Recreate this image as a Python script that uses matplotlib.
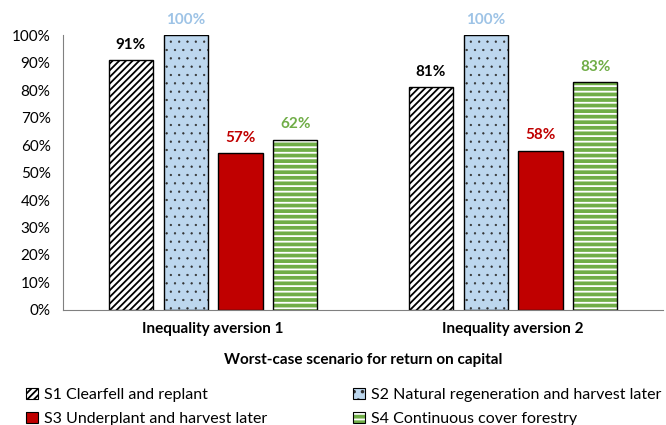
import numpy as np
import matplotlib as mpl
import matplotlib.pyplot as plt
from matplotlib.patches import Patch
from matplotlib.legend_handler import HandlerTuple

plt.rcParams['font.family'] = ['Lato', 'DejaVu Sans']
plt.rcParams['hatch.linewidth'] = 1.3

groups = ['Inequality aversion 1', 'Inequality aversion 2']
series = ['S1 Clearfell and replant', 'S2 Natural regeneration and harvest later',
          'S3 Underplant and harvest later', 'S4 Continuous cover forestry']
s1 = [0.91, 0.81]
s2 = [1.00, 1.00]
s3 = [0.57, 0.58]
s4 = [0.62, 0.83]
values = [s1, s2, s3, s4]

face = ['white', '#BDD7EE', '#C00000', '#70AD47']
hatch_col = ['black', '#303030', 'black', 'white']
hatches = ['/////', '..', None, '---']
hatch_lw = [1.3, 0.4, 1.3, 1.3]
label_col = ['black', '#9DC3E6', '#C00000', '#70AD47']

fig = plt.figure(figsize=(6.66, 4.25), dpi=100)
ax = fig.add_axes([0.0946, 0.2706, 0.901, 0.647])

x = np.arange(len(groups))
width = 0.147
step = 0.183
handles = []
for i, vals in enumerate(values):
    pos = x + (i - 1.5) * step
    with mpl.rc_context({'hatch.linewidth': hatch_lw[i]}):
        ax.bar(pos, vals, width, color=face[i], edgecolor=hatch_col[i], hatch=hatches[i], linewidth=0)
        hp = Patch(facecolor=face[i], edgecolor=hatch_col[i], hatch=hatches[i], linewidth=0)
    ax.bar(pos, vals, width, fill=False, edgecolor='black', linewidth=1)
    for p, v in zip(pos, vals):
        ax.text(p, v + 0.03, f'{v:.0%}', ha='center', va='bottom', fontsize=11,
                fontweight='bold', color=label_col[i])
    handles.append((hp, Patch(fill=False, edgecolor='black', linewidth=0.8)))

ax.set_xlim(-0.5, 1.5)
ax.set_ylim(0, 1.0)
ticks = np.arange(0, 1.01, 0.1)
ax.set_yticks(ticks)
ax.set_yticklabels([f'{t:.0%}' for t in ticks], fontsize=11)
ax.set_xticks(x)
ax.set_xticklabels(groups, fontsize=11, fontweight='bold')
ax.tick_params(length=0, pad=9)
ax.tick_params(axis='y', pad=9)
for s in ['top', 'right']:
    ax.spines[s].set_visible(False)
for s in ['left', 'bottom']:
    ax.spines[s].set_color('#808080')
ax.set_xlabel('Worst-case scenario for return on capital', fontsize=11,
              fontweight='bold', labelpad=12)

# row-wise legend order: S1, S2 / S3, S4
order = [0, 2, 1, 3]
fig.legend([handles[k] for k in order], [series[k] for k in order],
           handler_map={tuple: HandlerTuple(ndivide=1)},
           loc='lower left', bbox_to_anchor=(0.018, -0.036), ncol=2, frameon=False,
           fontsize=11.5, handlelength=0.7, handleheight=0.7, handletextpad=0.4,
           columnspacing=5.4, labelspacing=0.6)

fig.savefig('out.png', dpi=100)
